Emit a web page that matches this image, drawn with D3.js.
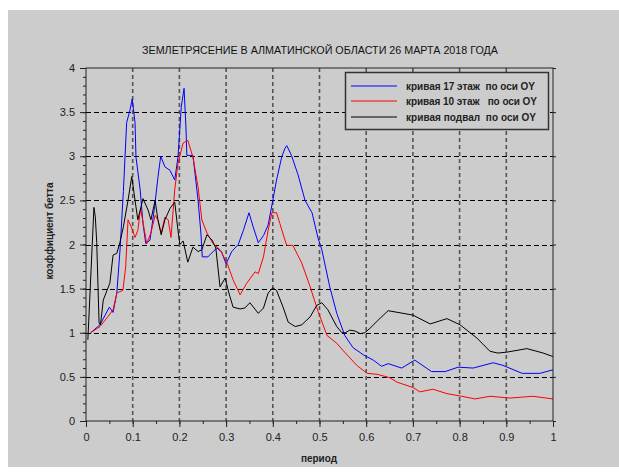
<!DOCTYPE html>
<html>
<head>
<meta charset="utf-8">
<script src="https://cdn.jsdelivr.net/npm/d3@7"></script>
<style>
html,body{margin:0;padding:0;background:#fff;}
svg text{font-family:"Liberation Sans",Arial,sans-serif;}
</style>
</head>
<body>
<svg id="chart" width="619" height="472"></svg>
<script>
const titleText = "ЗЕМЛЕТРЯСЕНИЕ В АЛМАТИНСКОЙ ОБЛАСТИ 26 МАРТА 2018 ГОДА";
const xLabel = "период";
const yLabel = "коэффициент бетта";
const legendLabels = ["кривая 17 этаж  по оси OY", "кривая 10 этаж   по оси OY", "кривая подвал  по оси OY"];
const xTickValues = [0,0.1,0.2,0.3,0.4,0.5,0.6,0.7,0.8,0.9,1];
const xTickLabels = ["0","0.1","0.2","0.3","0.4","0.5","0.6","0.7","0.8","0.9","1"];
const yTickValues = [0,0.5,1,1.5,2,2.5,3,3.5,4];
const yTickLabels = ["0","0.5","1","1.5","2","2.5","3","3.5","4"];

// кривая 17 этаж
const floor17X = [0.01,0.03,0.05,0.058,0.066,0.073,0.08,0.087,0.094,0.099,0.105,0.107,0.116,0.122,0.128,0.137,0.147,0.154,0.16,0.169,0.18,0.19,0.197,0.204,0.21,0.214,0.216,0.229,0.24,0.246,0.249,0.261,0.28,0.29,0.3,0.312,0.326,0.337,0.349,0.358,0.369,0.38,0.39,0.4,0.408,0.419,0.426,0.43,0.44,0.454,0.469,0.484,0.497,0.505,0.522,0.537,0.554,0.572,0.594,0.615,0.633,0.647,0.676,0.704,0.74,0.769,0.797,0.829,0.872,0.893,0.934,0.972,1.0];
const floor17Y = [1.0,1.09,1.29,1.23,1.45,1.95,2.6,3.38,3.52,3.65,3.38,2.99,2.62,2.24,2.01,2.05,2.43,2.76,3.0,2.88,2.84,2.73,2.99,3.56,3.77,3.33,3.01,3.01,2.5,2.13,1.86,1.86,1.96,1.92,1.78,1.92,2.0,2.16,2.36,2.2,2.02,2.1,2.22,2.5,2.73,2.99,3.09,3.12,3.01,2.79,2.5,2.36,2.07,1.94,1.52,1.22,0.97,0.83,0.75,0.69,0.62,0.65,0.6,0.69,0.56,0.56,0.61,0.6,0.66,0.63,0.54,0.54,0.58];

// кривая 10 этаж
const floor10X = [0.01,0.03,0.045,0.058,0.066,0.079,0.085,0.09,0.097,0.105,0.111,0.117,0.126,0.13,0.139,0.148,0.154,0.161,0.169,0.176,0.182,0.19,0.197,0.208,0.218,0.229,0.24,0.248,0.259,0.272,0.287,0.302,0.315,0.33,0.344,0.362,0.369,0.38,0.39,0.398,0.408,0.415,0.426,0.43,0.443,0.462,0.48,0.497,0.516,0.537,0.559,0.58,0.602,0.623,0.651,0.666,0.7,0.715,0.743,0.773,0.805,0.833,0.865,0.908,0.957,1.0];
const floor10Y = [1.0,1.07,1.17,1.26,1.45,1.48,1.75,2.28,2.2,2.08,2.16,2.41,2.13,2.01,2.13,2.33,2.28,2.13,2.31,2.28,2.08,2.62,2.92,3.15,3.18,2.99,2.65,2.28,2.13,2.01,1.94,1.79,1.6,1.43,1.56,1.69,1.67,1.86,2.16,2.36,2.36,2.24,2.05,1.99,1.99,1.79,1.52,1.24,0.97,0.88,0.75,0.63,0.54,0.53,0.49,0.44,0.38,0.33,0.36,0.31,0.28,0.25,0.28,0.26,0.28,0.25];

// кривая подвал
const basementX = [0.004,0.017,0.02,0.023,0.028,0.031,0.037,0.045,0.051,0.058,0.066,0.073,0.08,0.09,0.098,0.105,0.111,0.122,0.133,0.139,0.148,0.154,0.161,0.169,0.18,0.19,0.197,0.201,0.208,0.218,0.229,0.24,0.248,0.259,0.27,0.278,0.287,0.298,0.306,0.315,0.33,0.34,0.351,0.369,0.38,0.39,0.4,0.408,0.422,0.433,0.448,0.462,0.48,0.494,0.505,0.518,0.537,0.548,0.555,0.565,0.576,0.587,0.597,0.608,0.625,0.647,0.7,0.737,0.773,0.801,0.837,0.865,0.882,0.901,0.944,0.979,1.0];
const basementY = [0.92,2.42,2.31,2.02,1.11,1.09,1.37,1.48,1.56,1.88,1.9,2.03,2.2,2.5,2.77,2.5,2.28,2.52,2.39,2.28,2.5,2.28,2.11,2.28,2.41,2.48,2.16,2.0,2.04,1.8,1.97,1.92,1.94,2.11,2.05,1.96,1.52,1.62,1.45,1.29,1.27,1.28,1.34,1.22,1.28,1.45,1.51,1.48,1.29,1.12,1.07,1.09,1.18,1.31,1.34,1.26,1.07,1.0,1.0,1.03,1.02,0.99,1.0,1.05,1.14,1.25,1.2,1.1,1.16,1.09,0.94,0.79,0.77,0.78,0.82,0.77,0.73];

const seriesColors = ["#0000ff","#ff0000","#000000"];

const svg = d3.select("#chart");
svg.append("rect").attr("x",8).attr("y",10).attr("width",611).attr("height",457).attr("fill","#cccccc");

const x = d3.scaleLinear().domain([0,1]).range([86,553]);
const y = d3.scaleLinear().domain([0,4]).range([421,68]);

// grid
const grid = svg.append("g");
grid.selectAll("line.h").data(yTickValues.filter(v=>v>0&&v<4)).enter().append("line")
  .attr("x1",x(0)).attr("x2",x(1)).attr("y1",d=>Math.round(y(d))+0.5).attr("y2",d=>Math.round(y(d))+0.5)
  .attr("stroke","#000").attr("stroke-width",1).attr("stroke-dasharray","5,3");
grid.selectAll("line.v").data(xTickValues.filter(v=>v>0&&v<1)).enter().append("line")
  .attr("x1",d=>x(d)).attr("x2",d=>x(d)).attr("y1",y(4)).attr("y2",y(0))
  .attr("stroke","#555").attr("stroke-width",1.6).attr("stroke-dasharray","4,3");

// curves
const line = d3.line().x(d=>x(d[0])).y(d=>y(d[1]));
const series = [[floor17X,floor17Y],[floor10X,floor10Y],[basementX,basementY]];
series.forEach((s,i)=>{
  const pts = s[0].map((v,k)=>[v,s[1][k]]);
  svg.append("path").datum(pts).attr("d",line).attr("fill","none")
    .attr("stroke",seriesColors[i]).attr("stroke-width",1).attr("stroke-linejoin","round");
});

// frame
svg.append("rect").attr("x",x(0)).attr("y",y(4)).attr("width",x(1)-x(0)).attr("height",y(0)-y(4))
  .attr("fill","none").attr("stroke","#222").attr("stroke-width",1);

// axes
const yMinor = d3.range(0,40.5,1).map(v=>v/10);
const xMinor = d3.range(0,20.5,1).map(v=>v/20);
const axisStyle = g=>{ g.select(".domain").remove(); g.selectAll("line").attr("stroke","#222"); g.selectAll("text").attr("fill","#222").style("font-size","11px").style("font-family","Liberation Sans, Arial, sans-serif"); };

svg.append("g").attr("transform",`translate(${x(0)},0)`)
  .call(d3.axisLeft(y).tickValues(yMinor).tickSize(3).tickFormat("")).call(axisStyle);
svg.append("g").attr("transform",`translate(${x(0)},0)`)
  .call(d3.axisLeft(y).tickValues(yTickValues).tickSize(6).tickPadding(5).tickFormat((d,i)=>yTickLabels[i])).call(axisStyle);
svg.append("g").attr("transform",`translate(${x(1)},0)`)
  .call(d3.axisRight(y).tickValues(yTickValues).tickSize(3).tickFormat("")).call(axisStyle);
svg.append("g").attr("transform",`translate(0,${y(0)})`)
  .call(d3.axisBottom(x).tickValues(xMinor).tickSize(3).tickFormat("")).call(axisStyle);
svg.append("g").attr("transform",`translate(0,${y(0)})`)
  .call(d3.axisBottom(x).tickValues(xTickValues).tickSize(6).tickPadding(6).tickFormat((d,i)=>xTickLabels[i])).call(axisStyle);

// title
svg.append("text").attr("x",320).attr("y",54).attr("text-anchor","middle")
  .attr("textLength",356).attr("lengthAdjust","spacingAndGlyphs")
  .style("font-size","10px").attr("fill","#111").text(titleText);

// axis labels
svg.append("text").attr("x",319).attr("y",462).attr("text-anchor","middle")
  .style("font-size","10px").style("font-weight","bold").attr("fill","#222")
  .attr("textLength",36).attr("lengthAdjust","spacing").text(xLabel);
svg.append("text").attr("transform","translate(53,231) rotate(-90)").attr("text-anchor","middle")
  .style("font-size","10px").style("font-weight","bold").attr("fill","#222")
  .attr("textLength",97).attr("lengthAdjust","spacing").text(yLabel);

// legend
const lg = svg.append("g");
lg.append("rect").attr("x",345.5).attr("y",72.5).attr("width",203).attr("height",57)
  .attr("fill","#cccccc").attr("stroke","#333").attr("stroke-width",1.5);
const legendY = [86,101,117];
const legendW = [129,131,130];
legendLabels.forEach((t,i)=>{
  lg.append("line").attr("x1",351).attr("x2",397).attr("y1",legendY[i]).attr("y2",legendY[i])
    .attr("stroke",seriesColors[i]).attr("stroke-width",1);
  lg.append("text").attr("x",406).attr("y",legendY[i]+4).style("white-space","pre")
    .attr("xml:space","preserve")
    .style("font-size","10px").style("font-weight","bold").attr("fill","#222")
    .attr("textLength",legendW[i]).attr("lengthAdjust","spacing").text(t);
});
</script>
</body>
</html>
